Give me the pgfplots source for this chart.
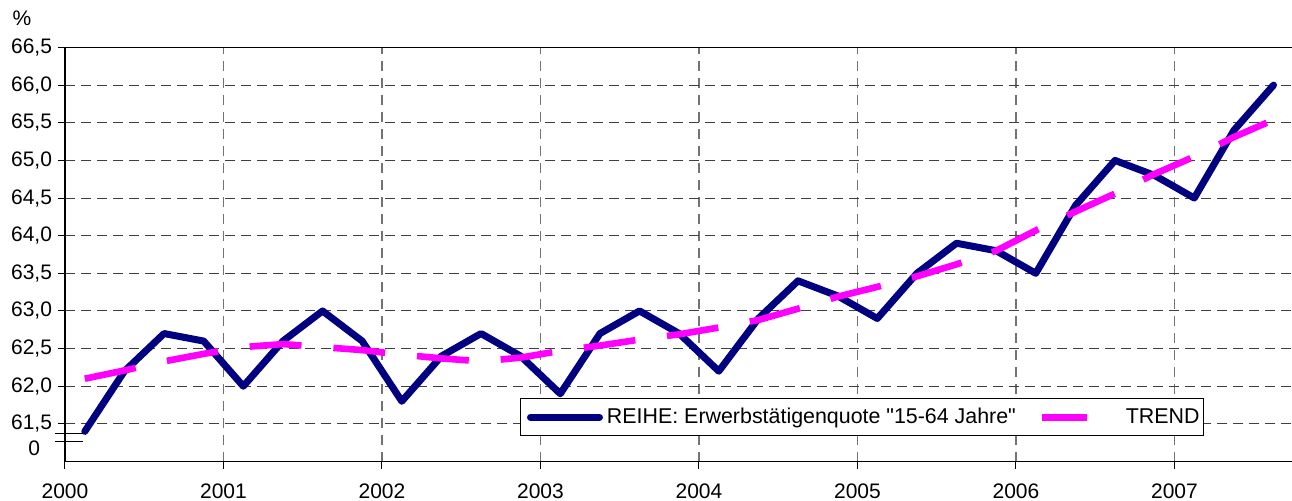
\documentclass[border=0pt]{standalone}
\usepackage{fontspec}
\setmainfont{Liberation Sans}[Ligatures=TeXOff]
\usepackage{pgfplots}
\pgfplotsset{compat=1.18}
\definecolor{reihe}{RGB}{0,0,128}
\definecolor{trend}{RGB}{255,0,255}
\pgfplotsset{
  reihelegend/.style={legend image code/.code={\path[draw=none] (0pt,0pt) -- (41pt,0pt); \draw[##1, line width=3.5pt, line cap=round] (5pt,0pt) -- (39.5pt,0pt);}},
  trendlegend/.style={legend image code/.code={\path[draw=none] (0pt,0pt) -- (51pt,0pt); \draw[##1, solid, line width=3.3pt, line cap=butt] (11pt,0pt) -- (33.5pt,0pt);}},
}
\begin{document}
\begin{tikzpicture}
\begin{axis}[
  at={(0,0)}, anchor=south west,
  scale only axis, width=616pt, height=207pt,
  xmin=2000, xmax=2007.773, ymin=61, ymax=66.5,
  clip=false,
  font=\fontsize{10.5}{12.6}\selectfont,
  tick pos=left, tick align=outside,
  major tick length=3.5pt,
  tick style={black, line width=0.5pt},
  axis line style={black, line width=0.6pt},
  xtick={2000,2001,2002,2003,2004,2005,2006,2007},
  xticklabels={2000,2001,2002,2003,2004,2005,2006,2007},
  xticklabel style={yshift=-4pt},
  ytick={61.5,62,62.5,63,63.5,64,64.5,65,65.5,66,66.5},
  yticklabel style={xshift=0.5pt, /pgf/number format/fixed, /pgf/number format/fixed zerofill,
    /pgf/number format/precision=1, /pgf/number format/use comma,
    /pgf/number format/assume math mode=true},
  extra y ticks={61.17}, extra y tick labels={0},
  extra y tick style={grid=none, major tick length=0pt, yticklabel style={xshift=-9.5pt}},
  xmajorgrids, ymajorgrids,
  x grid style={black!55, dash pattern=on 5pt off 3.5pt, line width=0.6pt},
  y grid style={black!75, dash pattern=on 5pt off 3pt, line width=0.5pt},
  legend style={at={(0.3693,0.0616)}, anchor=south west, draw=black, line width=0.5pt,
    fill=white, inner xsep=0pt, inner ysep=2.5pt, legend columns=2,
    nodes={inner sep=2pt}, font=\fontsize{10.7}{12.8}\selectfont},
  legend cell align=left,
]
\addplot[reihe, line width=3.5pt, line join=round, line cap=round, reihelegend]
coordinates {
(2000.125,61.4) (2000.375,62.2) (2000.625,62.7) (2000.875,62.6)
(2001.125,62.0) (2001.375,62.6) (2001.625,63.0) (2001.875,62.6)
(2002.125,61.8) (2002.375,62.4) (2002.625,62.7) (2002.875,62.4)
(2003.125,61.9) (2003.375,62.7) (2003.625,63.0) (2003.875,62.7)
(2004.125,62.2) (2004.375,62.9) (2004.625,63.4) (2004.875,63.2)
(2005.125,62.9) (2005.375,63.5) (2005.625,63.9) (2005.875,63.8)
(2006.125,63.5) (2006.375,64.4) (2006.625,65.0) (2006.875,64.8)
(2007.125,64.5) (2007.375,65.4) (2007.625,66.0)
};
\addlegendentry{REIHE: Erwerbstätigenquote "15-64 Jahre"}
\addplot[trend, line width=3.3pt, line cap=butt, dash pattern=on 26pt off 16pt, trendlegend]
coordinates {
(2000.125,62.10) (2000.375,62.21) (2000.625,62.33) (2000.875,62.43)
(2001.125,62.52) (2001.375,62.56) (2001.625,62.52) (2001.875,62.48)
(2002.125,62.42) (2002.375,62.37) (2002.625,62.33) (2002.875,62.38)
(2003.125,62.47) (2003.375,62.54) (2003.625,62.62) (2003.875,62.69)
(2004.125,62.78) (2004.375,62.88) (2004.625,63.03) (2004.875,63.19)
(2005.125,63.32) (2005.375,63.46) (2005.625,63.62) (2005.875,63.80)
(2006.125,64.07) (2006.375,64.32) (2006.625,64.56) (2006.875,64.82)
(2007.125,65.05) (2007.375,65.31) (2007.625,65.54)
};
\addlegendentry{TREND}
\node at (rel axis cs:0,1) [xshift=-21.5pt, yshift=14.5pt] {\%};
\draw[black, line width=0.6pt] ([xshift=-5pt]axis cs:2000,61.375) -- ([xshift=9pt]axis cs:2000,61.375);
\draw[black, line width=0.6pt] ([xshift=-5pt]axis cs:2000,61.263) -- ([xshift=9pt]axis cs:2000,61.263);
\end{axis}
\pgfresetboundingbox
\path[use as bounding box] (-32.5pt,-19.25pt) rectangle (613.5pt,230.75pt);
\end{tikzpicture}
\end{document}
